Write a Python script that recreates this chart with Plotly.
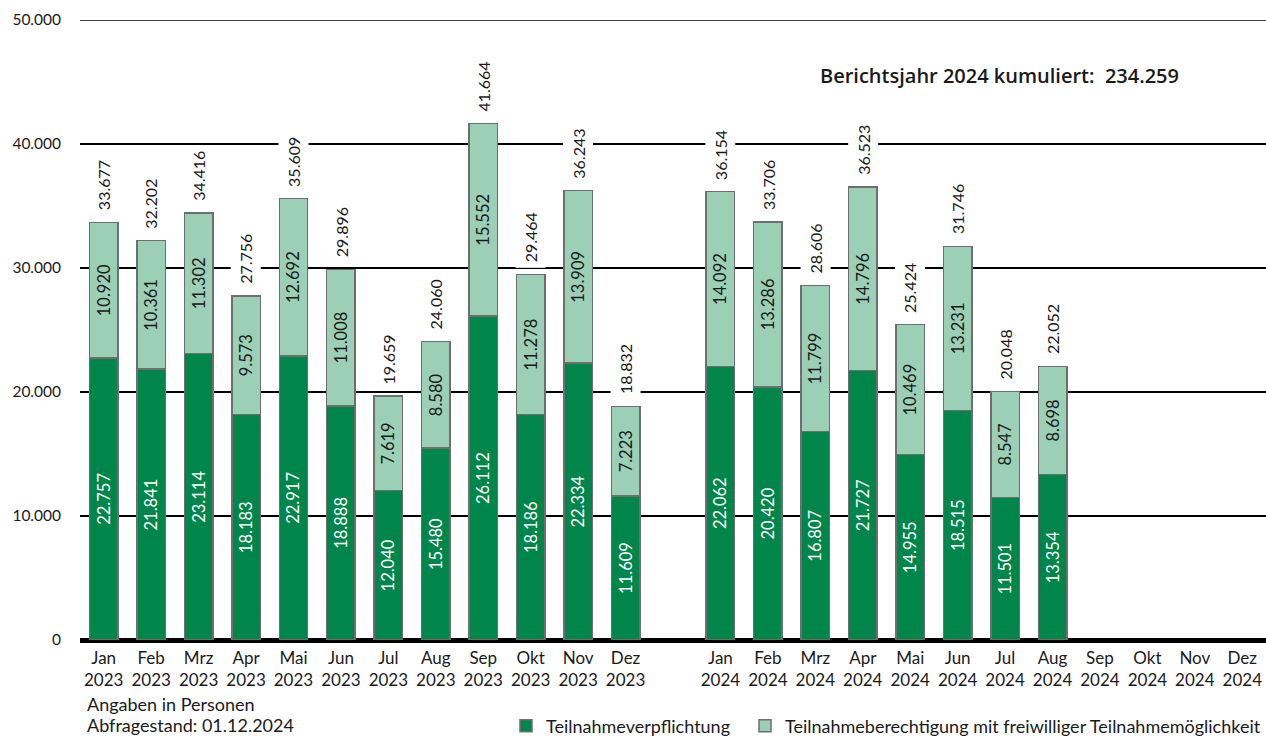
import plotly.graph_objects as go

months = ["Jan", "Feb", "Mrz", "Apr", "Mai", "Jun", "Jul", "Aug", "Sep", "Okt", "Nov", "Dez"]
years = ["2023", "2024"]

pflicht_2023 = [22757, 21841, 23114, 18183, 22917, 18888, 12040, 15480, 26112, 18186, 22334, 11609]
freiwillig_2023 = [10920, 10361, 11302, 9573, 12692, 11008, 7619, 8580, 15552, 11278, 13909, 7223]
pflicht_2024 = [22062, 20420, 16807, 21727, 14955, 18515, 11501, 13354]
freiwillig_2024 = [14092, 13286, 11799, 14796, 10469, 13231, 8547, 8698]

kumuliert_2024 = 234259

series_names = ["Teilnahmeverpflichtung", "Teilnahmeberechtigung mit freiwilliger Teilnahmemöglichkeit"]

DARK = "#00854A"
LIGHT = "#9BCFB6"
OUTLINE = "#6E6E6E"
TXT = "#1A1A1A"
FONT = "Lato"

W, H = 1266, 738
plot_left, plot_right = 80, 1266
plot_top, plot_bot = 20, 640


def py(pix):
    return (plot_bot - pix) / (plot_bot - plot_top)


def px(pix):
    return (pix - plot_left) / (plot_right - plot_left)


def cy(pix):
    return (H - pix) / H


# x positions: 12 months 2023, one empty slot, 12 months 2024
x23 = list(range(12))
x24 = [13 + i for i in range(len(pflicht_2024))]
tickvals = list(range(12)) + [13 + i for i in range(12)]
ticktext = [f"{m}<br>{years[0]}" for m in months] + [f"{m}<br>{years[1]}" for m in months]

xs = x23 + x24
pflicht = pflicht_2023 + pflicht_2024
freiwillig = freiwillig_2023 + freiwillig_2024
totals = [a + b for a, b in zip(pflicht, freiwillig)]


def fmt(v):
    return f"{v:,}".replace(",", ".")


fig = go.Figure()
fig.add_trace(go.Bar(
    x=xs, y=pflicht, name=series_names[0], legend="legend",
    marker=dict(color=DARK, line=dict(color=OUTLINE, width=1.5)),
    texttemplate="%{y:,}", textposition="inside", insidetextanchor="middle",
    textangle=-90, textfont=dict(color="white", size=16.5, family=FONT),
))
fig.add_trace(go.Bar(
    x=xs, y=freiwillig, name=series_names[1], legend="legend2",
    marker=dict(color=LIGHT, line=dict(color=OUTLINE, width=1.5)),
    texttemplate="%{y:,}", textposition="inside", insidetextanchor="middle",
    textangle=-90, textfont=dict(color=TXT, size=16.5, family=FONT),
))

for x, t in zip(xs, totals):
    fig.add_annotation(
        x=x, y=t, xref="x", yref="y", text=fmt(t),
        textangle=-90, showarrow=False, yanchor="bottom", xanchor="center",
        yshift=6, bgcolor="white", borderpad=5,
        font=dict(size=16, color=TXT, family=FONT),
    )

fig.add_annotation(
    x=px(1181), y=py(75), xref="paper", yref="paper",
    text=f"Berichtsjahr 2024 kumuliert:  {fmt(kumuliert_2024)}",
    showarrow=False, xanchor="right", yanchor="middle",
    font=dict(size=20, color=TXT, family="Open Sans", weight=600),
)

fig.add_annotation(x=px(85), y=py(704), xref="paper", yref="paper",
                   text="Angaben in Personen", showarrow=False,
                   xanchor="left", yanchor="middle",
                   font=dict(size=18, color=TXT, family=FONT))
fig.add_annotation(x=px(85), y=py(725), xref="paper", yref="paper",
                   text="Abfragestand: 01.12.2024", showarrow=False,
                   xanchor="left", yanchor="middle",
                   font=dict(size=18, color=TXT, family=FONT))

# top gridline at the upper range limit
fig.add_shape(type="line", xref="paper", yref="y", x0=0, x1=1, y0=50000, y1=50000,
              line=dict(color="black", width=1.5), layer="below")

legend_common = dict(orientation="h", yref="container", y=cy(726), xanchor="left",
                     yanchor="middle", font=dict(size=18, color=TXT, family=FONT),
                     itemwidth=30, bgcolor="rgba(0,0,0,0)")

fig.update_layout(
    barmode="stack", bargap=0.4,
    width=W, height=H,
    margin=dict(l=plot_left, r=W - plot_right, t=plot_top, b=H - plot_bot),
    plot_bgcolor="white", paper_bgcolor="white",
    separators=",.",
    font=dict(family=FONT, size=16, color=TXT),
    uniformtext=dict(minsize=16, mode="show"),
    showlegend=True,
    legend=dict(x=px(506), **legend_common),
    legend2=dict(x=px(749), **legend_common),
    xaxis=dict(range=[-0.5, 24.5], tickmode="array", tickvals=tickvals, ticktext=ticktext,
               showgrid=False, ticks="", showline=False, zeroline=False,
               tickfont=dict(size=17, color=TXT, family=FONT), ticklabelstandoff=6),
    yaxis=dict(range=[0, 50000], dtick=10000, tickformat=",", showgrid=True,
               gridcolor="black", gridwidth=1.5, zeroline=True, zerolinecolor="black",
               zerolinewidth=5, showline=False, ticks="",
               tickfont=dict(size=15.5, color=TXT, family=FONT), ticklabelstandoff=18),
)

fig.write_html("out.html", config={"displayModeBar": False},
               post_script="document.body.style.margin='0px';")
